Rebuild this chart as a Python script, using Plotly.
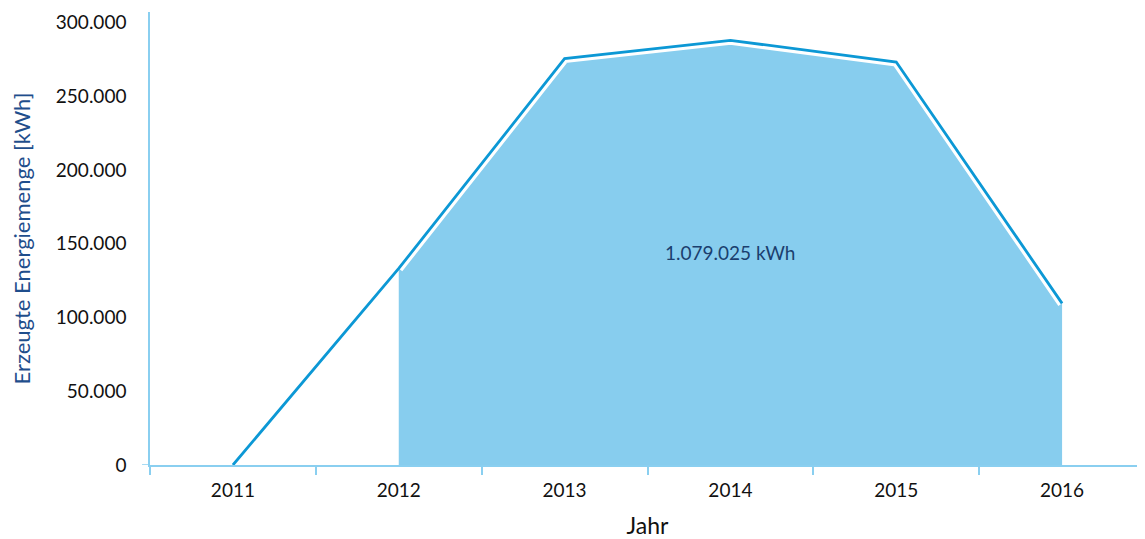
import plotly.graph_objects as go

years = ["2011", "2012", "2013", "2014", "2015", "2016"]
energy_kwh = [0, 133200, 275400, 287800, 273100, 109525]
y_ticks = [0, 50000, 100000, 150000, 200000, 250000, 300000]
y_tick_labels = ["0", "50.000", "100.000", "150.000", "200.000", "250.000", "300.000"]

total = sum(energy_kwh[1:])
total_label = f"{total:,}".replace(",", ".") + " kWh"

LINE = "#0C98D5"
FILL = "#87CDEE"
AXIS = "#8ACFF0"
FONT = "Lato"

fig = go.Figure()
fig.add_trace(go.Scatter(
    x=years[1:], y=energy_kwh[1:], mode="lines", fill="tozeroy",
    fillcolor=FILL, line=dict(width=0), hoverinfo="skip", showlegend=False))
fig.add_trace(go.Scatter(
    x=years[1:], y=energy_kwh[1:], mode="lines",
    line=dict(color="white", width=9), hoverinfo="skip", showlegend=False))
fig.add_trace(go.Scatter(
    x=years, y=energy_kwh, mode="lines",
    line=dict(color=LINE, width=2.8), showlegend=False))

fig.add_annotation(xref="x", yref="y", x=3, y=144000, text=total_label, showarrow=False,
                   font=dict(family=FONT, size=19, color="#1B3F6E"))

fig.add_shape(type="line", xref="paper", yref="y", x0=-0.008, x1=0, y0=0, y1=0,
              line=dict(color=AXIS, width=1.5))

fig.update_layout(
    width=1137, height=531,
    margin=dict(l=142, r=0, t=4, b=74),
    paper_bgcolor="white", plot_bgcolor="white",
    font=dict(family=FONT, size=18, color="#111111"),
    xaxis=dict(
        type="category", categoryorder="array", categoryarray=years,
        range=[-0.5, 5.5], showgrid=False, zeroline=False, automargin=False,
        showline=True, linecolor=AXIS, linewidth=1.5,
        ticks="outside", tickson="boundaries", ticklen=8, tickcolor=AXIS, tickwidth=1.5,
        ticklabelstandoff=7,
        tickfont=dict(family=FONT, size=19, color="#111111"),
        title=dict(text="Jahr", font=dict(family=FONT, size=23, color="#111111"), standoff=23),
    ),
    yaxis=dict(
        range=[0, 307000], showgrid=False, zeroline=False, automargin=False,
        showline=True, linecolor=AXIS, linewidth=1.5,
        tickmode="array", tickvals=y_ticks, ticktext=y_tick_labels,
        ticks="", ticklabelstandoff=18,
        tickfont=dict(family=FONT, size=19, color="#111111"),
        title=dict(text="Erzeugte Energiemenge [kWh]",
                   font=dict(family=FONT, size=22, color="#1F4E8C"), standoff=24),
    ),
)

fig.write_html("out.html")
